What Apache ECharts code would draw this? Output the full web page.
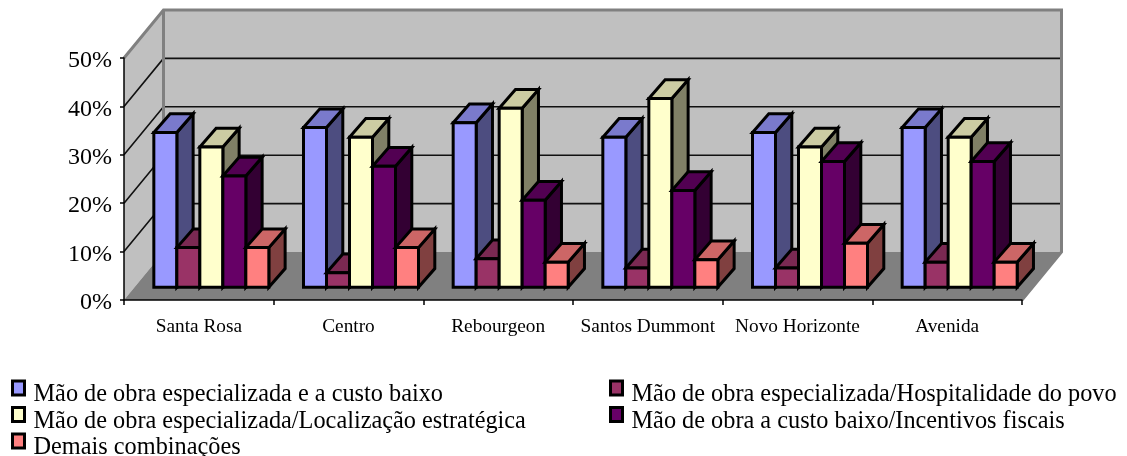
<!DOCTYPE html>
<html>
<head>
<meta charset="utf-8">
<style>html,body{margin:0;padding:0;background:#fff}#c{width:1127px;height:456px}</style>
<script src="https://cdn.jsdelivr.net/npm/echarts@6/dist/echarts.min.js"></script>
</head>
<body>
<div id="c"></div>
<script>
const categories = ['Santa Rosa','Centro','Rebourgeon','Santos Dummont','Novo Horizonte','Avenida'];
const seriesNames = [
  'Mão de obra especializada e a custo baixo',
  'Mão de obra especializada/Hospitalidade do povo',
  'Mão de obra especializada/Localização estratégica',
  'Mão de obra a custo baixo/Incentivos fiscais',
  'Demais combinações'
];
const especializadaCustoBaixo = [32, 33, 34, 31, 32, 33];
const especializadaHospitalidade = [8.2, 3, 5.9, 4, 4, 5.2];
const especializadaLocalizacao = [29, 31, 37, 39, 29, 31];
const custoBaixoIncentivos = [23, 25, 18, 20, 26, 26];
const demaisCombinacoes = [8.2, 8.2, 5.2, 5.7, 9.1, 5.2];
const seriesValues = [especializadaCustoBaixo, especializadaHospitalidade, especializadaLocalizacao, custoBaixoIncentivos, demaisCombinacoes];
const seriesColors = ['#9999FF','#993366','#FFFFCC','#660066','#FF8080'];
const topColors = ['#7A7ACC','#7A2952','#CCCCA3','#520052','#CC6666'];
const sideColors = ['#4D4D80','#4D1A33','#808066','#330033','#804040'];
const gridTicks = [10,20,30,40];

const FONT = '"Liberation Serif","Times New Roman",serif';
const WALL_DX = 39.5, WALL_DY = 48;
const BAR_W = 23, FRONT_DX = 12.5, FRONT_DY = 12.7, BAR_DX = 16.3, BAR_DY = 18.7, BAR_LINE = 3;

function wallItem(params, api) {
  const cs = params.coordSys;
  const L = cs.x, R = cs.x + cs.width, T = cs.y, B = cs.y + cs.height;
  const line = (pts, color, w) => ({type:'polyline', shape:{points:pts}, style:{fill:null, stroke:color, lineWidth:w}});
  const children = [
    {type:'polygon', shape:{points:[[L+WALL_DX,T-WALL_DY],[R+WALL_DX,T-WALL_DY],[R+WALL_DX,B-WALL_DY],[L+WALL_DX,B-WALL_DY]]}, style:{fill:'#C0C0C0'}},
    {type:'polygon', shape:{points:[[L,T],[L+WALL_DX,T-WALL_DY],[L+WALL_DX,B-WALL_DY],[L,B]]}, style:{fill:'#C0C0C0'}},
    {type:'polygon', shape:{points:[[L,B],[L+WALL_DX,B-WALL_DY],[R+WALL_DX,B-WALL_DY],[R,B]]}, style:{fill:'#808080'}}
  ];
  gridTicks.forEach(t => {
    const y = api.coord([0,t])[1];
    children.push(line([[L,y],[L+WALL_DX,y-WALL_DY],[R+WALL_DX,y-WALL_DY]], '#111', 1.6));
  });
  children.push(line([[L,T],[L+WALL_DX,T-WALL_DY],[R+WALL_DX,T-WALL_DY],[R+WALL_DX,B-WALL_DY],[R,B]], '#808080', 3));
  children.push(line([[L+WALL_DX,T-WALL_DY],[L+WALL_DX,B-WALL_DY]], '#808080', 3));
  return {type:'group', children};
}

function barRenderer(i) {
  return function (params, api) {
    const c = api.value(0), v = api.value(1);
    const base = api.coord([c,0]), top = api.coord([c,v]);
    const x0 = base[0] - 2.5*BAR_W + i*BAR_W + FRONT_DX, x1 = x0 + BAR_W;
    const y0 = base[1] - FRONT_DY, y1 = top[1] - FRONT_DY;
    const st = fill => ({fill, stroke:'#000', lineWidth:BAR_LINE, lineJoin:'miter'});
    return {type:'group', children:[
      {type:'polygon', shape:{points:[[x1,y1],[x1+BAR_DX,y1-BAR_DY],[x1+BAR_DX,y0-BAR_DY],[x1,y0]]}, style:st(sideColors[i])},
      {type:'polygon', shape:{points:[[x0,y1],[x0+BAR_DX,y1-BAR_DY],[x1+BAR_DX,y1-BAR_DY],[x1,y1]]}, style:st(topColors[i])},
      {type:'polygon', shape:{points:[[x0,y0],[x0,y1],[x1,y1],[x1,y0]]}, style:st(seriesColors[i])}
    ]};
  };
}

const legendBase = {
  orient:'vertical', itemWidth:12, itemHeight:14, itemGap:-11.5, icon:'rect', padding:0, height:130,
  itemStyle:{borderColor:'#000', borderWidth:3},
  formatter: name => '{t|' + name + '}',
  textStyle:{rich:{t:{fontFamily:FONT, fontSize:24.3, color:'#000', lineHeight:16, padding:[14,0,0,4]}}},
  selectedMode:false
};

const option = {
  animation:false,
  backgroundColor:'#fff',
  grid:{left:124, right:105, top:58, height:242},
  legend:[
    Object.assign({}, legendBase, {left:11, top:369, data:[seriesNames[0],seriesNames[2],seriesNames[4]]}),
    Object.assign({}, legendBase, {left:609, top:369, data:[seriesNames[1],seriesNames[3]]})
  ],
  xAxis:{
    type:'category', data:categories, z:6,
    axisLine:{lineStyle:{color:'#000', width:1.5}},
    axisTick:{show:true, alignWithLabel:false, length:5, lineStyle:{color:'#000', width:1.5}},
    axisLabel:{fontFamily:FONT, fontSize:19.3, color:'#000', margin:17, interval:0},
    splitLine:{show:false}
  },
  yAxis:{
    type:'value', min:0, max:50, interval:10, z:6,
    axisLine:{show:true, lineStyle:{color:'#000', width:1.5}},
    axisTick:{show:true, length:4, lineStyle:{color:'#000', width:1.5}},
    axisLabel:{margin:12, formatter:v => '{t|' + v + '%}', rich:{t:{fontFamily:FONT, fontSize:24, color:'#000', padding:[6,0,0,0]}}},
    splitLine:{show:false}
  },
  series:[
    {type:'custom', name:'walls', silent:true, clip:false, z:1, renderItem:wallItem, data:[[0,0]], encode:{x:0,y:1}}
  ].concat(seriesNames.map((name,i)=>({
    type:'custom', name, clip:false, z:3+i,
    itemStyle:{color:seriesColors[i]},
    renderItem:barRenderer(i),
    encode:{x:0,y:1},
    data:seriesValues[i].map((v,c)=>[c,v])
  })))
};
echarts.init(document.getElementById('c'),null,{renderer:'canvas'}).setOption(option);
</script>
</body>
</html>
